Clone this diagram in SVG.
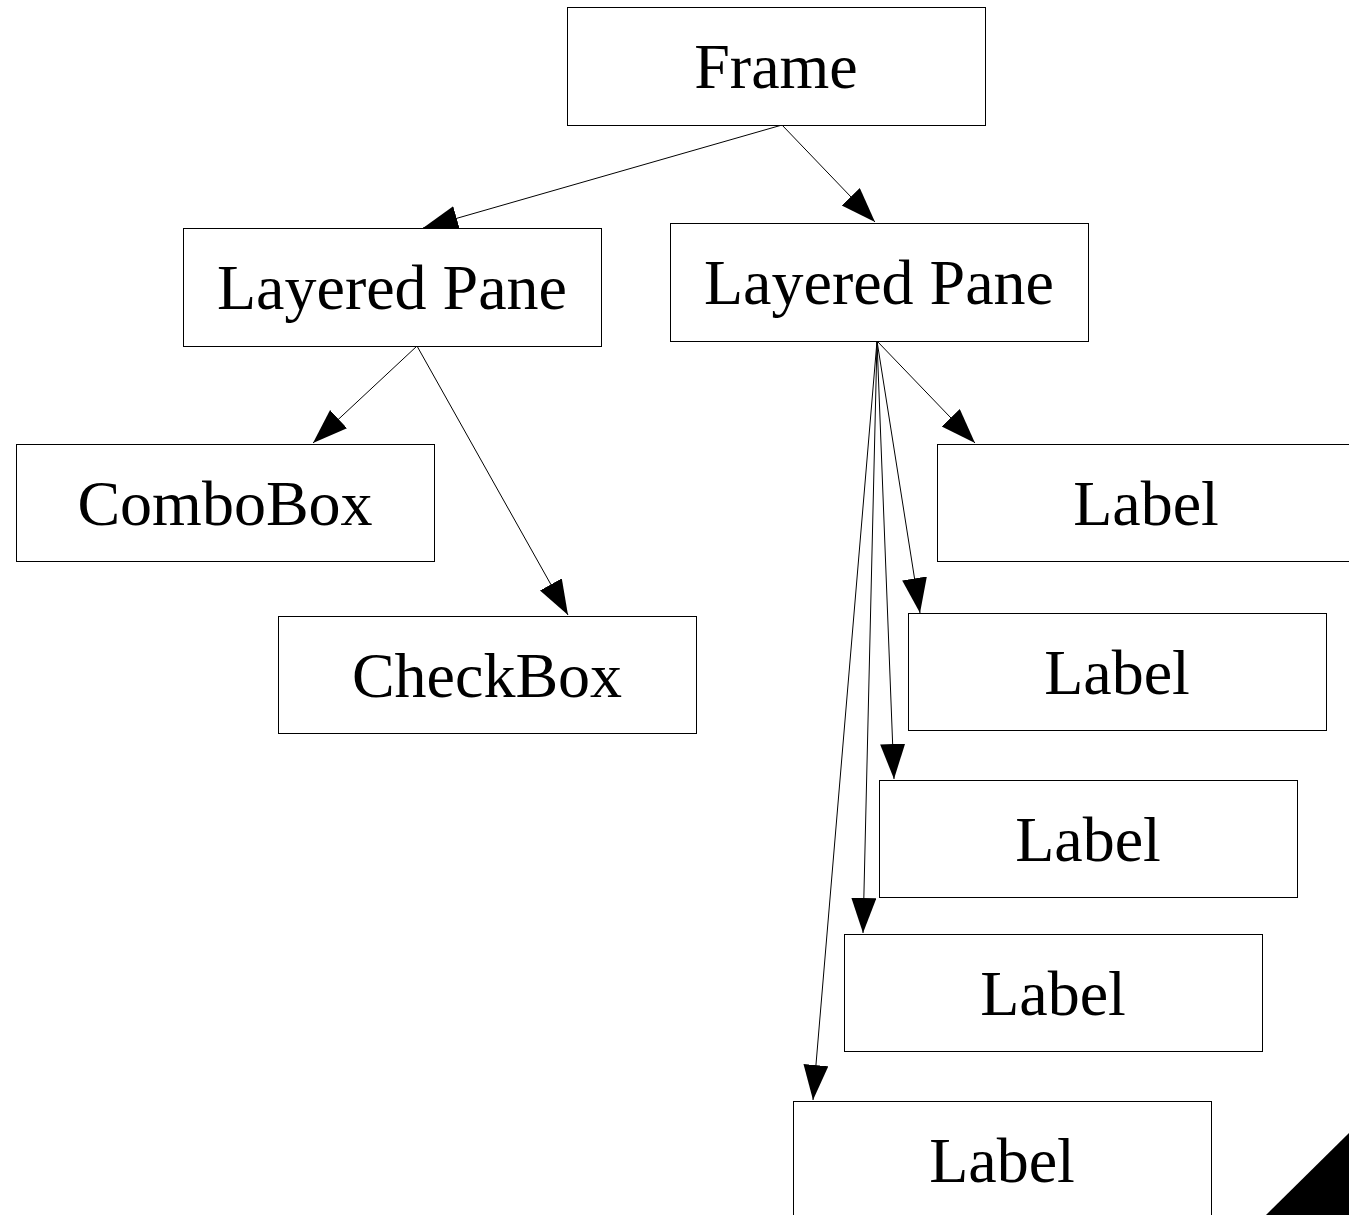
<svg xmlns="http://www.w3.org/2000/svg" width="1349" height="1215" viewBox="0 0 1349 1215">
<style>
.box{fill:#fff;stroke:#000;stroke-width:1}
.t{font-family:"Liberation Serif","Times New Roman",serif;font-size:64px;text-anchor:middle;fill:#000}
.e{stroke:#000;stroke-width:1;fill:none;marker-end:url(#ah)}
</style>
<defs>
<marker id="ah" markerUnits="userSpaceOnUse" markerWidth="38" markerHeight="28" refX="35" refY="12.5" orient="auto">
<path d="M0,0 L35,12.5 L0,25 z" fill="#000"/>
</marker>
</defs>
<rect width="1349" height="1215" fill="#fff"/>
<g id="edges">
<line class="e" x1="782" y1="125" x2="423" y2="228"/>
<line class="e" x1="782" y1="125" x2="875" y2="222"/>
<line class="e" x1="417" y1="346" x2="313" y2="443"/>
<line class="e" x1="417" y1="346" x2="568" y2="615"/>
<line class="e" x1="877" y1="341" x2="975" y2="443"/>
<line class="e" x1="877" y1="341" x2="920" y2="613"/>
<line class="e" x1="877" y1="341" x2="894" y2="779"/>
<line class="e" x1="877" y1="341" x2="863" y2="933"/>
<line class="e" x1="877" y1="341" x2="813" y2="1100"/>
</g>
<g id="frame"><rect class="box" x="567.5" y="7.5" width="418" height="118"/><text class="t" x="776" y="88">Frame</text></g>
<g id="lp1"><rect class="box" x="183.5" y="228.5" width="418" height="118"/><text class="t" x="392" y="309">Layered Pane</text></g>
<g id="lp2"><rect class="box" x="670.5" y="223.5" width="418" height="118"/><text class="t" x="879" y="304">Layered Pane</text></g>
<g id="combobox"><rect class="box" x="16.5" y="444.5" width="418" height="117"/><text class="t" x="225" y="525">ComboBox</text></g>
<g id="checkbox"><rect class="box" x="278.5" y="616.5" width="418" height="117"/><text class="t" x="487" y="697">CheckBox</text></g>
<g id="label1"><rect class="box" x="937.5" y="444.5" width="418" height="117"/><text class="t" x="1146" y="525">Label</text></g>
<g id="label2"><rect class="box" x="908.5" y="613.5" width="418" height="117"/><text class="t" x="1117" y="694">Label</text></g>
<g id="label3"><rect class="box" x="879.5" y="780.5" width="418" height="117"/><text class="t" x="1088" y="861">Label</text></g>
<g id="label4"><rect class="box" x="844.5" y="934.5" width="418" height="117"/><text class="t" x="1053" y="1015">Label</text></g>
<g id="label5"><rect class="box" x="793.5" y="1101.5" width="418" height="117"/><text class="t" x="1002" y="1182">Label</text></g>
<polygon points="1266,1215 1349,1133 1349,1215" fill="#000"/>
</svg>
